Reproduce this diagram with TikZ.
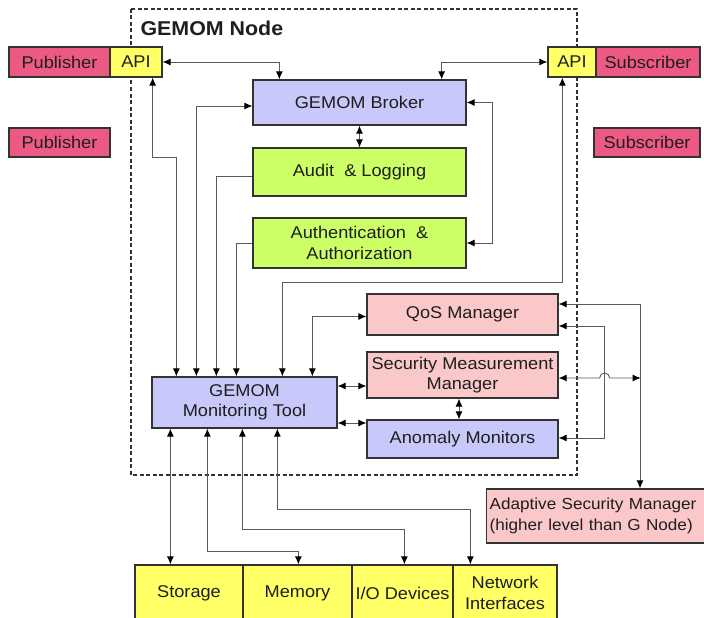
\documentclass[tikz,border=0pt]{standalone}
\usepackage{fontspec}
\setmainfont{Liberation Sans}[FakeStretch=1.07]
\usetikzlibrary{arrows.meta,calc}

\definecolor{pubpink}{HTML}{EC5A84}
\definecolor{apiyel}{HTML}{FFFF66}
\definecolor{lav}{HTML}{C8C8FA}
\definecolor{lime}{HTML}{CCFF66}
\definecolor{rose}{HTML}{FAC8C8}
\definecolor{wire}{HTML}{5A5A5A}
\definecolor{edge}{HTML}{333333}
\definecolor{ink}{HTML}{1E1E1E}

\tikzset{
  box/.style={draw=edge, line width=1.3pt, rectangle, inner sep=2pt,
    align=center, text=ink, font=\fontsize{17}{20.5}\selectfont},
  tip/.tip={Latex[length=8pt,width=7pt,black]},
  wirebase/.style={draw=wire, line width=0.9pt},
  arr/.style={wirebase, -tip},
  dbl/.style={wirebase, tip-tip},
}

\begin{document}
\begin{tikzpicture}[x=1pt,y=-1pt]
\useasboundingbox (0,0) rectangle (704,618);

% node boundary
\draw[draw=edge, line width=1.2pt, dash pattern=on 4pt off 2.5pt] (131,9) rectangle (577,475);
\node[anchor=west, font=\bfseries\fontsize{20}{23}\selectfont, text=ink] (title) at (137,28) {GEMOM Node};

% publishers and subscribers
\node[box, fill=pubpink, minimum width=101pt, minimum height=30pt] (pub1) at (59.5,62) {Publisher};
\node[box, fill=apiyel, minimum width=52pt, minimum height=30pt] (api1) at (136,62) {API};
\node[box, fill=pubpink, minimum width=101pt, minimum height=29pt] (pub2) at (59.5,142.5) {Publisher};
\node[box, fill=apiyel, minimum width=48pt, minimum height=30pt] (api2) at (572,62) {API};
\node[box, fill=pubpink, minimum width=104pt, minimum height=30pt] (sub1) at (648,62) {Subscriber};
\node[box, fill=pubpink, minimum width=106pt, minimum height=29pt] (sub2) at (647,142.5) {Subscriber};

% core components
\node[box, fill=lav, minimum width=213pt, minimum height=45pt] (broker) at (359.5,102.5) {GEMOM Broker};
\node[box, fill=lime, minimum width=213pt, minimum height=48pt] (audit) at (359.5,172) {Audit~ \& Logging};
\node[box, fill=lime, minimum width=213pt, minimum height=50pt] (auth) at (359.5,243) {Authentication~ \&\\Authorization};
\node[box, fill=rose, minimum width=191pt, minimum height=41pt] (qos) at (462.5,314.5) {QoS Manager};
\node[box, fill=rose, minimum width=191pt, minimum height=46pt] (smm) at (462.5,375) {Security Measurement\\Manager};
\node[box, fill=lav, minimum width=191pt, minimum height=38pt] (anom) at (462.5,439) {Anomaly Monitors};
\node[box, fill=lav, minimum width=185pt, minimum height=51pt] (mon) at (244.5,402.5) {GEMOM\\Monitoring Tool};

% higher level manager, running off the right edge
\node[box, fill=rose, anchor=west, text width=236pt, inner xsep=3pt, align=left, minimum height=54pt,
  font=\fontsize{16}{20.5}\selectfont] (asm) at (486,516)
  {Adaptive Security Manager\\(higher level than G Node)};

% resources
\node[box, fill=apiyel, minimum width=108pt, minimum height=56pt] (storage) at (189,593) {Storage};
\node[box, fill=apiyel, minimum width=109pt, minimum height=56pt] (memory) at (297.5,593) {Memory};
\node[box, fill=apiyel, minimum width=101pt, minimum height=56pt] (io) at (402.5,593) {I/O Devices};
\node[box, fill=apiyel, minimum width=104pt, minimum height=56pt] (net) at (505,593) {Network\\Interfaces};

% API links to the broker
\draw[dbl] (api1.east) -| ([xshift=27pt]broker.north west);
\draw[dbl] (api2.west) -| ([xshift=-25pt]broker.north east);
\draw[dbl] (broker) -- (audit);
\draw[dbl] (broker.east) -- ++(26,0) |- (auth.east);

% feeds into the monitoring tool
\draw[dbl] ([xshift=25pt]mon.north west) -- ++(0,-219) -| ([xshift=-10pt]api1.south east);
\draw[dbl] ([xshift=45pt]mon.north west) |- ([yshift=-3.5pt]broker.west);
\draw[arr] ([yshift=-4pt]audit.west) -| ([xshift=65pt]mon.north west);
\draw[arr] (auth.west) -| ([xshift=85pt]mon.north west);
\draw[dbl] ([xshift=131pt]mon.north west) -- ++(0,-94) -| ([xshift=15pt]api2.south west);
\draw[dbl] ([xshift=161pt]mon.north west) |- ([yshift=-2pt]qos.west);
\draw[dbl] ([yshift=16.5pt]mon.east) -- ([yshift=-11pt]smm.west);
\draw[dbl] ([yshift=-20.5pt]mon.east) -- ([yshift=16pt]anom.west);
\draw[dbl] ([xshift=-3.5pt]smm.south) -- ([xshift=-3.5pt]anom.north);

% links to the adaptive security manager
\draw[dbl] ([yshift=10.5pt]qos.east) -| ([xshift=154pt]asm.north west);
\draw[dbl] ([yshift=-11.5pt]qos.east) -- ++(46,0) |- ([yshift=1pt]anom.east);
\draw[dbl] ([yshift=-3pt]smm.east) -- ++(41,0) arc(180:360:5) -- ++(31,0);

% resource links
\draw[dbl] ([xshift=19pt]mon.south west) -- ([xshift=36pt]storage.north west);
\draw[dbl] ([xshift=56pt]mon.south west) -- ++(0,123) -| ([xshift=56pt]memory.north west);
\draw[dbl] ([xshift=91pt]mon.south west) -- ++(0,101) -| ([xshift=53pt]io.north west);
\draw[dbl] ([xshift=126pt]mon.south west) -- ++(0,81) -| ([xshift=18pt]net.north west);
\end{tikzpicture}
\end{document}
